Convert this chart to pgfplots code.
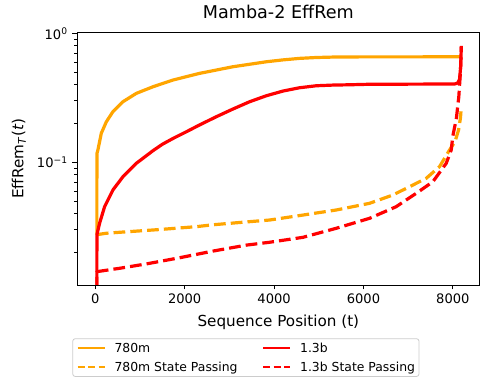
\documentclass[border=0pt]{standalone}
\usepackage{fontspec}
\setmainfont{DejaVu Sans}
\usepackage{pgfplots}
\pgfplotsset{compat=1.18}
\definecolor{mplorange}{HTML}{FFA500}
\definecolor{mplred}{HTML}{FF0000}
\definecolor{legframe}{HTML}{CCCCCC}

\begin{document}
\begin{tikzpicture}
\path[use as bounding box] (-57.75pt,-78.75pt) rectangle (309pt,213.7pt);
\begin{axis}[
  at={(0pt,0pt)}, anchor=south west,
  width=302pt, height=189.5pt,
  scale only axis,
  ymode=log,
  xmin=-409.6, xmax=8600.6,
  ymin=0.0112, ymax=1.02,
  xtick={0,2000,4000,6000,8000},
  ytick={0.1,1},
  yticklabels={10\textsuperscript{−1},10\textsuperscript{0}},
  minor ytick={0.02,0.03,0.04,0.05,0.06,0.07,0.08,0.09,0.2,0.3,0.4,0.5,0.6,0.7,0.8,0.9},
  scaled x ticks=false,
  /pgf/number format/1000 sep={},
  /pgf/number format/assume math mode=true,
  tick align=outside,
  xtick pos=bottom, ytick pos=left,
  major tick length=3.4pt, minor tick length=2pt,
  every tick/.style={black, line width=0.6pt},
  axis line style={line width=0.6pt},
  ticklabel style={font=\fontsize{9.8}{11.8}\selectfont},
  title={Mamba-2 EffRem},
  title style={at={(axis description cs:0.5,1)}, anchor=base, yshift=4.7pt, inner sep=0pt, font=\fontsize{13.2}{16}\selectfont},
  xlabel={Sequence Position (t)},
  xlabel style={at={(axis description cs:0.5,0)}, anchor=base, yshift=-31.3pt, inner sep=0pt, font=\fontsize{11.4}{13.5}\selectfont},
  ylabel={EffRem\textsubscript{\textit{T}}(\textit{t})},
  ylabel style={at={([xshift=-40.3pt]axis description cs:0,0.5)}, anchor=base, inner sep=0pt, font=\fontsize{11.4}{13.5}\selectfont},
  legend columns=2,
  legend style={at={(axis description cs:-0.0117,-0.211)}, anchor=north west,
    draw=legframe, rounded corners=2pt, line width=0.6pt,
    font=\fontsize{9.3}{11}\selectfont,
    inner xsep=3pt, inner ysep=3.2pt,
    cells={anchor=west},
    nodes={inner sep=0pt, text height=6.9pt, text depth=0.6pt},
    row sep=7pt,
    /tikz/every odd column/.append style={column sep=6.75pt},
    /tikz/every even column/.append style={column sep=18.5pt},
  },
  legend image code/.code={\draw[#1] (0pt,0pt) -- (20.25pt,0pt);},
]
% 780m
\addplot[mplorange, line width=2.4pt, line join=round, forget plot] coordinates {
(35,0.0275) (36,0.117) (58,0.1246) (134,0.168) (246,0.206) (394,0.247) (617,0.295)
(917,0.3425) (1289,0.3855) (1736,0.4345) (2333,0.4897) (3078,0.551) (3826,0.6023)
(4200,0.623) (4570,0.640) (4944,0.650) (5315,0.655) (5689,0.657) (8150,0.658) (8191,0.670)};
% 780m State Passing
\addplot[mplorange, line width=2.4pt, line join=round, dash pattern=on 8.8pt off 3.8pt, forget plot] coordinates {
(35,0.0275) (250,0.0282) (617,0.0288) (1365,0.0300) (2260,0.0317) (2633,0.0328)
(3378,0.0345) (3900,0.0357) (4644,0.0390) (5391,0.0427) (6136,0.0481) (6658,0.0558)
(7031,0.0647) (7405,0.0752) (7702,0.0925) (7926,0.1246) (8050,0.145) (8128,0.178)
(8170,0.22) (8191,0.27)};
% 1.3b
\addplot[mplred, line width=2.4pt, line join=round, forget plot] coordinates {
(35,0.0105) (36,0.0275) (96,0.0337) (208,0.0453) (394,0.0610) (617,0.0773)
(917,0.0982) (1289,0.123) (1500,0.138) (1736,0.153) (2050,0.1735) (2333,0.195) (2707,0.2257) (3078,0.2589)
(3452,0.2950) (3826,0.3283) (4197,0.3569) (4570,0.3788) (4944,0.3925) (5315,0.3973)
(5689,0.3995) (6123,0.403) (8040,0.405) (8110,0.412) (8150,0.44) (8175,0.55) (8191,0.80)};
% 1.3b State Passing
\addplot[mplred, line width=2.4pt, line join=round, dash pattern=on 8.8pt off 3.8pt, forget plot] coordinates {
(35,0.0105) (36,0.0142) (544,0.01508) (1141,0.0163) (1886,0.0182) (2633,0.0205)
(3378,0.0228) (3900,0.0240) (4644,0.0262) (5391,0.0308) (6136,0.0368) (6733,0.0453)
(7181,0.0575) (7553,0.0707) (7852,0.0982) (7964,0.1246) (8000,0.16) (8080,0.22)
(8134,0.323) (8170,0.5) (8191,0.787)};
\addlegendimage{mplorange, line width=1.4pt}
\addlegendentry{780m}
\addlegendimage{mplred, line width=1.4pt}
\addlegendentry{1.3b}
\addlegendimage{mplorange, line width=1.4pt, dash pattern=on 5.45pt off 2.4pt}
\addlegendentry{780m State Passing}
\addlegendimage{mplred, line width=1.4pt, dash pattern=on 5.45pt off 2.4pt}
\addlegendentry{1.3b State Passing}
\end{axis}
\end{tikzpicture}
\end{document}
